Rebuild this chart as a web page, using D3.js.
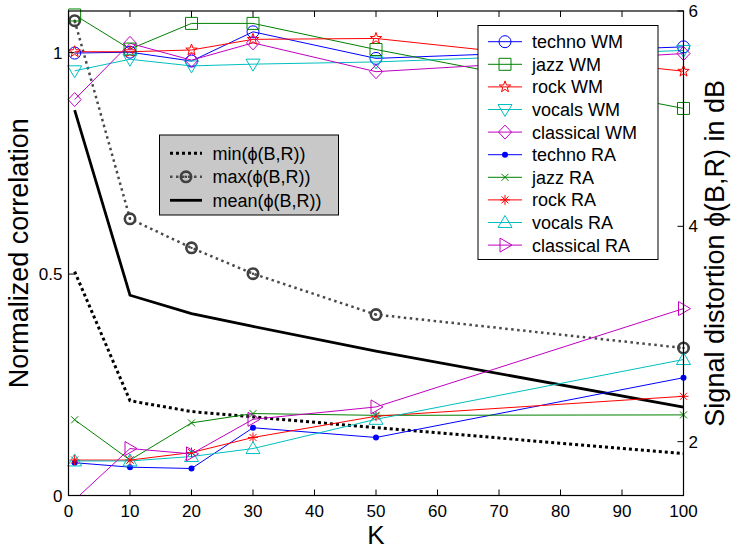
<!DOCTYPE html>
<html>
<head>
<meta charset="utf-8">
<script src="https://cdn.jsdelivr.net/npm/d3@7"></script>
<style>
  body { margin: 0; background: #fff; }
  text { font-family: "Liberation Sans", Arial, Helvetica, sans-serif; fill: #000; }
</style>
</head>
<body>
<svg id="chart" width="732" height="551"></svg>
<script>
// Number of components K
const kValues = [1, 10, 20, 30, 50, 100];

// Normalized correlation, watermark (WM) and random (RA) reference
const technoWM    = [0.999, 1.001, 0.981, 1.047, 0.987, 1.013];
const jazzWM      = [1.085, 1.008, 1.066, 1.066, 1.007, 0.874];
const rockWM      = [1.002, 1.002, 1.006, 1.030, 1.032, 0.958];
const vocalsWM    = [0.959, 0.985, 0.970, 0.974, 0.979, 1.005];
const classicalWM = [0.894, 1.021, 0.983, 1.022, 0.957, 0.998];

const technoRA    = [0.074, 0.064, 0.061, 0.153, 0.131, 0.266];
const jazzRA      = [0.171, 0.080, 0.164, 0.185, 0.181, 0.182];
const rockRA      = [0.080, 0.080, 0.097, 0.131, 0.179, 0.224];
const vocalsRA    = [0.078, 0.078, 0.088, 0.106, 0.172, 0.307];
const classicalRA = [-0.010, 0.106, 0.094, 0.172, 0.200, 0.422];

// Signal distortion phi(B,R) in dB
const minDist  = [3.58, 2.38, 2.28, 2.23, 2.13, 1.89];
const maxDist  = [5.91, 4.07, 3.80, 3.56, 3.18, 2.87];
const meanDist = [5.08, 3.36, 3.19, 3.07, 2.84, 2.32];

// Axis ticks
const xTicks = [0, 10, 20, 30, 40, 50, 60, 70, 80, 90, 100];
const leftTicks = [0, 0.5, 1];
const leftTickLabels = ["0", "0.5", "1"];
const rightTicks = [2, 4, 6];

const PHI = "\u03D5";
const seriesNames = ["techno WM", "jazz WM", "rock WM", "vocals WM", "classical WM",
                     "techno RA", "jazz RA", "rock RA", "vocals RA", "classical RA"];
const distNames = [`min(${PHI}(B,R))`, `max(${PHI}(B,R))`, `mean(${PHI}(B,R))`];

const BLUE = "#0000ff", GREEN = "#008000", RED = "#ff0000", CYAN = "#00bfbf", MAG = "#bf00bf";

const corrSeries = [
  { name: seriesNames[0], values: technoWM,    color: BLUE,  marker: "circle" },
  { name: seriesNames[1], values: jazzWM,      color: GREEN, marker: "square" },
  { name: seriesNames[2], values: rockWM,      color: RED,   marker: "pentagram" },
  { name: seriesNames[3], values: vocalsWM,    color: CYAN,  marker: "triDown" },
  { name: seriesNames[4], values: classicalWM, color: MAG,   marker: "diamond" },
  { name: seriesNames[5], values: technoRA,    color: BLUE,  marker: "dot" },
  { name: seriesNames[6], values: jazzRA,      color: GREEN, marker: "x" },
  { name: seriesNames[7], values: rockRA,      color: RED,   marker: "asterisk" },
  { name: seriesNames[8], values: vocalsRA,    color: CYAN,  marker: "triUp" },
  { name: seriesNames[9], values: classicalRA, color: MAG,   marker: "triRight" }
];

const svg = d3.select("#chart");
const M = { left: 68.5, right: 683.5, top: 11, bottom: 495.5 };

const x = d3.scaleLinear().domain([0, 100]).range([M.left, M.right]);
const yL = d3.scaleLinear().domain([0, 1.094]).range([M.bottom, M.top]);
const yR = d3.scaleLinear().domain([1.5, 6]).range([M.bottom, M.top]);

// Marker path builders (centred on 0,0)
function markerPath(type) {
  const p = d3.path();
  switch (type) {
    case "square": p.rect(-6, -6, 12, 12); break;
    case "pentagram": {
      const R = 6, r = R * 0.40;
      for (let i = 0; i < 10; i++) {
        const a = -Math.PI / 2 + i * Math.PI / 5;
        const rr = i % 2 === 0 ? R : r;
        if (i === 0) p.moveTo(rr * Math.cos(a), rr * Math.sin(a));
        else p.lineTo(rr * Math.cos(a), rr * Math.sin(a));
      }
      p.closePath(); break;
    }
    case "triDown": p.moveTo(-7, -5); p.lineTo(7, -5); p.lineTo(0, 7); p.closePath(); break;
    case "triUp": p.moveTo(-7, 5); p.lineTo(7, 5); p.lineTo(0, -7); p.closePath(); break;
    case "triRight": p.moveTo(-5, -7); p.lineTo(7, 0); p.lineTo(-5, 7); p.closePath(); break;
    case "diamond": p.moveTo(0, -7); p.lineTo(6.5, 0); p.lineTo(0, 7); p.lineTo(-6.5, 0); p.closePath(); break;
    case "x": p.moveTo(-3.5, -3.5); p.lineTo(3.5, 3.5); p.moveTo(-3.5, 3.5); p.lineTo(3.5, -3.5); break;
    case "asterisk":
      p.moveTo(-5, 0); p.lineTo(5, 0); p.moveTo(0, -5); p.lineTo(0, 5);
      p.moveTo(-3.5, -3.5); p.lineTo(3.5, 3.5); p.moveTo(-3.5, 3.5); p.lineTo(3.5, -3.5); break;
  }
  return p.toString();
}

function drawMarker(g, type, cx, cy, color) {
  if (type === "circle") {
    g.append("circle").attr("cx", cx).attr("cy", cy).attr("r", 6)
      .attr("fill", "none").attr("stroke", color).attr("stroke-width", 1);
  } else if (type === "dot") {
    g.append("circle").attr("cx", cx).attr("cy", cy).attr("r", 3)
      .attr("fill", color).attr("stroke", "none");
  } else {
    g.append("path").attr("d", markerPath(type))
      .attr("transform", `translate(${cx},${cy})`)
      .attr("fill", "none").attr("stroke", color).attr("stroke-width", 1);
  }
}

function drawRing(g, cx, cy) {
  g.append("circle").attr("cx", cx).attr("cy", cy).attr("r", 5.2)
    .attr("fill", "none").attr("stroke", "#404040").attr("stroke-width", 2.6);
  g.append("circle").attr("cx", cx).attr("cy", cy).attr("r", 1.2).attr("fill", "#404040");
}

svg.append("defs").append("clipPath").attr("id", "plotClip")
  .append("rect").attr("x", M.left).attr("y", M.top)
  .attr("width", M.right - M.left).attr("height", M.bottom - M.top);

const plot = svg.append("g");
const lines = plot.append("g").attr("clip-path", "url(#plotClip)");
const marks = plot.append("g");

// Distortion curves (right axis)
const distLine = d3.line().x(d => x(d[0])).y(d => yR(d[1]));
const zipK = vals => kValues.map((k, i) => [k, vals[i]]);

lines.append("path").attr("d", distLine(zipK(meanDist)))
  .attr("fill", "none").attr("stroke", "#000").attr("stroke-width", 2.8);
lines.append("path").attr("d", distLine(zipK(minDist)))
  .attr("fill", "none").attr("stroke", "#000").attr("stroke-width", 3)
  .attr("stroke-dasharray", "3,3");
lines.append("path").attr("d", distLine(zipK(maxDist)))
  .attr("fill", "none").attr("stroke", "#4a4a4a").attr("stroke-width", 2.5)
  .attr("stroke-dasharray", "2.5,3.5");
zipK(maxDist).forEach(d => drawRing(marks, x(d[0]), yR(d[1])));

// Correlation curves (left axis)
const corrLine = d3.line().x(d => x(d[0])).y(d => yL(d[1]));
corrSeries.forEach(s => {
  const pts = zipK(s.values);
  lines.append("path").attr("d", corrLine(pts))
    .attr("fill", "none").attr("stroke", s.color).attr("stroke-width", 1);
  pts.forEach(d => {
    if (d[1] >= yL.domain()[0] && d[1] <= yL.domain()[1]) {
      drawMarker(marks, s.marker, x(d[0]), yL(d[1]), s.color);
    }
  });
});

// Axes box and ticks
const axes = svg.append("g");
axes.append("rect").attr("x", M.left).attr("y", M.top)
  .attr("width", M.right - M.left).attr("height", M.bottom - M.top)
  .attr("fill", "none").attr("stroke", "#000").attr("stroke-width", 1.2);

const TL = 6;
xTicks.forEach(t => {
  const px = x(t);
  axes.append("line").attr("x1", px).attr("x2", px).attr("y1", M.bottom).attr("y2", M.bottom - TL)
    .attr("stroke", "#000");
  axes.append("line").attr("x1", px).attr("x2", px).attr("y1", M.top).attr("y2", M.top + TL)
    .attr("stroke", "#000");
  axes.append("text").attr("x", px).attr("y", M.bottom + 21).attr("text-anchor", "middle")
    .attr("font-size", 17).text(t);
});
leftTicks.forEach((t, i) => {
  const py = yL(t);
  axes.append("line").attr("x1", M.left).attr("x2", M.left + TL).attr("y1", py).attr("y2", py)
    .attr("stroke", "#000");
  axes.append("text").attr("x", M.left - 6).attr("y", py + 6).attr("text-anchor", "end")
    .attr("font-size", 17).text(leftTickLabels[i]);
});
rightTicks.forEach(t => {
  const py = yR(t);
  axes.append("line").attr("x1", M.right).attr("x2", M.right - TL).attr("y1", py).attr("y2", py)
    .attr("stroke", "#000");
  axes.append("text").attr("x", M.right + 5).attr("y", py + 6).attr("text-anchor", "start")
    .attr("font-size", 17).text(t);
});

// Axis titles
axes.append("text").attr("x", (M.left + M.right) / 2).attr("y", 544)
  .attr("text-anchor", "middle").attr("font-size", 26).text("K");
axes.append("text")
  .attr("transform", `translate(28,${(M.top + M.bottom) / 2}) rotate(-90)`)
  .attr("text-anchor", "middle").attr("font-size", 27).text("Normalized correlation");
axes.append("text")
  .attr("transform", `translate(724,${(M.top + M.bottom) / 2}) rotate(-90)`)
  .attr("text-anchor", "middle").attr("font-size", 27).text(`Signal distortion ${PHI}(B,R) in dB`);

// Legend for correlation series
const leg = svg.append("g");
leg.append("rect").attr("x", 478).attr("y", 25.5).attr("width", 180).attr("height", 234)
  .attr("fill", "#fff").attr("stroke", "#000").attr("stroke-width", 1);
corrSeries.forEach((s, i) => {
  const ry = 41.7 + i * 22.6;
  leg.append("line").attr("x1", 488).attr("x2", 522).attr("y1", ry).attr("y2", ry)
    .attr("stroke", s.color).attr("stroke-width", 1);
  drawMarker(leg, s.marker, 505, ry, s.color);
  leg.append("text").attr("x", 532).attr("y", ry + 6.5).attr("font-size", 18).text(s.name);
});

// Legend for distortion curves
const leg2 = svg.append("g");
leg2.append("rect").attr("x", 159.5).attr("y", 135).attr("width", 179).attr("height", 80)
  .attr("fill", "#c8c8c8").attr("stroke", "#000").attr("stroke-width", 1);
const legRows = [153.3, 176.8, 200.3];
leg2.append("line").attr("x1", 170).attr("x2", 202).attr("y1", legRows[0]).attr("y2", legRows[0])
  .attr("stroke", "#000").attr("stroke-width", 3).attr("stroke-dasharray", "3,3");
leg2.append("line").attr("x1", 170).attr("x2", 202).attr("y1", legRows[1]).attr("y2", legRows[1])
  .attr("stroke", "#4a4a4a").attr("stroke-width", 2.5).attr("stroke-dasharray", "2.5,3.5");
drawRing(leg2, 186, legRows[1]);
leg2.append("line").attr("x1", 170).attr("x2", 202).attr("y1", legRows[2]).attr("y2", legRows[2])
  .attr("stroke", "#000").attr("stroke-width", 2.8);
distNames.forEach((n, i) => {
  leg2.append("text").attr("x", 212.5).attr("y", legRows[i] + 6.5).attr("font-size", 18).text(n);
});
</script>
</body>
</html>
